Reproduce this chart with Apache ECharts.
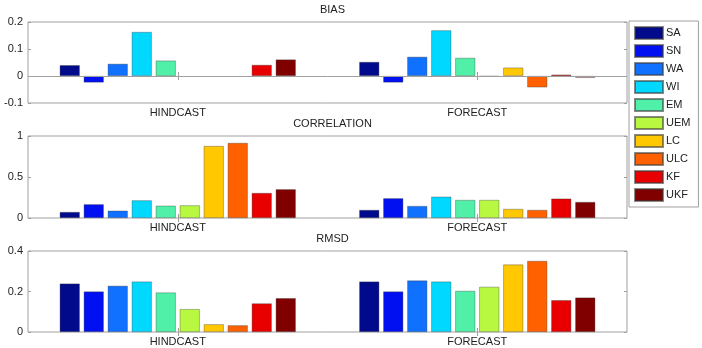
<!DOCTYPE html>
<html>
<head>
<meta charset="utf-8">
<script src="https://cdn.jsdelivr.net/npm/echarts@6/dist/echarts.min.js"></script>
<style>
html, body { margin: 0; padding: 0; background: #fff; }
#graph { width: 702px; height: 348px; }
</style>
</head>
<body>
<div id="graph"></div>
<script>
let models = ['SA', 'SN', 'WA', 'WI', 'EM', 'UEM', 'LC', 'ULC', 'KF', 'UKF'];
let periods = ['HINDCAST', 'FORECAST'];
let colors = ['#000a8a', '#0010f0', '#1070ff', '#00d8ff', '#50f0a8', '#b8f840', '#ffc800', '#ff6000', '#e80000', '#800000'];

let biasHind = [0.040, -0.024, 0.045, 0.163, 0.057, null, null, null, 0.041, 0.061];
let biasFore = [0.052, -0.024, 0.071, 0.169, 0.067, -0.002, 0.031, -0.042, 0.005, -0.006];
let corrHind = [0.073, 0.167, 0.089, 0.215, 0.150, 0.154, 0.878, 0.915, 0.305, 0.350];
let corrFore = [0.098, 0.240, 0.146, 0.260, 0.220, 0.220, 0.110, 0.098, 0.236, 0.195];
let rmsdHind = [0.239, 0.200, 0.228, 0.249, 0.195, 0.113, 0.038, 0.033, 0.141, 0.167];
let rmsdFore = [0.249, 0.200, 0.254, 0.249, 0.203, 0.223, 0.333, 0.351, 0.157, 0.170];

let panels = [
	{ title: 'BIAS', top: 22, height: 81, min: -0.1, max: 0.2, interval: 0.1, hind: biasHind, fore: biasFore, zeroLine: true },
	{ title: 'CORRELATION', top: 136, height: 82, min: 0, max: 1, interval: 0.5, hind: corrHind, fore: corrFore },
	{ title: 'RMSD', top: 251, height: 81, min: 0, max: 0.4, interval: 0.2, hind: rmsdHind, fore: rmsdFore }
];

let textColor = '#222';
let lineColor = '#a0a0a0';
let font = 'Liberation Sans, Arial, sans-serif';

let grids = [];
let xAxes = [];
let yAxes = [];
let titles = [];
let series = [];

panels.forEach(function (p, i) {
	grids.push({ left: 28, right: 75, top: p.top, height: p.height, show: true, borderColor: lineColor, borderWidth: 1 });
	titles.push({
		text: p.title, left: 327.5, top: p.top - 23, textAlign: 'center',
		textStyle: { fontSize: 11, fontWeight: 'normal', color: textColor, fontFamily: font }
	});
	xAxes.push({
		type: 'category', gridIndex: i, data: periods, position: 'bottom',
		axisLine: { show: false },
		axisTick: { show: true, inside: true, alignWithLabel: true, length: 4, lineStyle: { color: lineColor } },
		axisLabel: { color: textColor, fontSize: 11, fontFamily: font, margin: 4 }
	});
	xAxes.push({
		type: 'category', gridIndex: i, data: periods, position: 'top',
		axisLine: { show: false },
		axisTick: { show: true, inside: true, alignWithLabel: true, length: 4, lineStyle: { color: lineColor } },
		axisLabel: { show: false }
	});
	yAxes.push({
		type: 'value', gridIndex: i, min: p.min, max: p.max, interval: p.interval, position: 'left',
		axisLine: { show: false },
		axisTick: { show: true, inside: true, length: 3, lineStyle: { color: lineColor } },
		splitLine: { show: false },
		axisLabel: { color: textColor, fontSize: 11, fontFamily: font, margin: 5 }
	});
	yAxes.push({
		type: 'value', gridIndex: i, min: p.min, max: p.max, interval: p.interval, position: 'right',
		axisLine: { show: false },
		axisTick: { show: true, inside: true, length: 3, lineStyle: { color: lineColor } },
		splitLine: { show: false },
		axisLabel: { show: false }
	});
	models.forEach(function (m, k) {
		let s = {
			name: m, type: 'bar', xAxisIndex: i * 2, yAxisIndex: i * 2,
			data: [p.hind[k], p.fore[k]],
			barGap: '20%', barCategoryGap: '21.2%',
			itemStyle: { color: colors[k], borderColor: 'rgba(60,60,60,0.6)', borderWidth: 0.6 },
			emphasis: { disabled: true }
		};
		if (p.zeroLine && k == 0) {
			s.markLine = {
				silent: true, symbol: 'none', label: { show: false },
				lineStyle: { color: lineColor, type: 'solid', width: 1 },
				data: [{ yAxis: 0 }]
			};
		}
		series.push(s);
	});
});

var myChart = echarts.init(document.getElementById('graph'), null, { width: 702, height: 348 });

let option = {
	animation: false,
	backgroundColor: '#fff',
	title: titles,
	grid: grids,
	xAxis: xAxes,
	yAxis: yAxes,
	legend: {
		data: models, orient: 'vertical', left: 629, top: 21, icon: 'rect',
		itemWidth: 28, itemHeight: 12, itemGap: 4, padding: [5, 8, 5, 5],
		borderColor: lineColor, borderWidth: 1, backgroundColor: '#fff',
		textStyle: { color: textColor, fontSize: 11, fontFamily: font, padding: [0, 0, 0, -2] },
		selectedMode: false
	},
	series: series
};

myChart.setOption(option, true);
</script>
</body>
</html>
